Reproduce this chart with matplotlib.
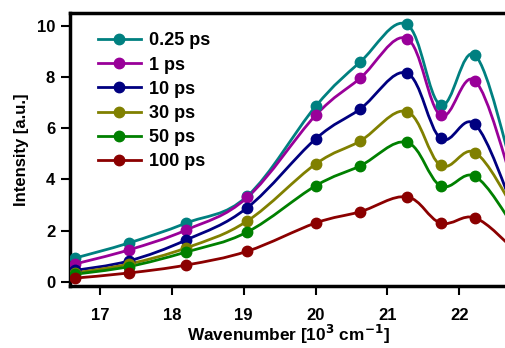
import numpy as np
import matplotlib
matplotlib.use("Agg")
import matplotlib.pyplot as plt
from matplotlib.path import Path
from matplotlib.patches import PathPatch
from matplotlib.lines import Line2D

plt.rcParams['font.family'] = ['Liberation Sans', 'DejaVu Sans']
plt.rcParams['font.weight'] = 'bold'

# wavenumber [10^3 cm^-1]
wn = [16.65, 17.40, 18.20, 19.05, 20.00, 20.62, 21.27, 21.74, 22.22, 22.75]

i_025 = [0.93, 1.52, 2.30, 3.35, 6.85, 8.58, 10.05, 6.90, 8.85, 4.3]
i_1 = [0.70, 1.25, 2.03, 3.30, 6.50, 7.95, 9.50, 6.50, 7.85, 3.8]
i_10 = [0.45, 0.82, 1.64, 2.90, 5.58, 6.75, 8.15, 5.60, 6.15, 2.9]
i_30 = [0.35, 0.70, 1.33, 2.38, 4.60, 5.50, 6.65, 4.55, 5.05, 2.9]
i_50 = [0.30, 0.60, 1.17, 1.95, 3.75, 4.53, 5.45, 3.75, 4.12, 2.2]
i_100 = [0.15, 0.35, 0.66, 1.20, 2.30, 2.74, 3.32, 2.30, 2.50, 1.3]

labels = ['0.25 ps', '1 ps', '10 ps', '30 ps', '50 ps', '100 ps']
series = [i_025, i_1, i_10, i_30, i_50, i_100]
colors = ['#008080', '#990099', '#000080', '#808000', '#008000', '#8b0000']


def smooth_path(x, y, t=0.18):
    # Catmull-Rom style bezier through the points (drawing only)
    x = np.asarray(x, float)
    y = np.asarray(y, float)
    verts = [(x[0], y[0])]
    codes = [Path.MOVETO]
    n = len(x)
    for i in range(n - 1):
        x0, y0 = (x[i - 1], y[i - 1]) if i > 0 else (x[i], y[i])
        x3, y3 = (x[i + 2], y[i + 2]) if i + 2 < n else (x[i + 1], y[i + 1])
        c1 = (x[i] + (x[i + 1] - x0) * t, y[i] + (y[i + 1] - y0) * t)
        c2 = (x[i + 1] - (x3 - x[i]) * t, y[i + 1] - (y3 - y[i]) * t)
        verts += [c1, c2, (x[i + 1], y[i + 1])]
        codes += [Path.CURVE4] * 3
    return Path(verts, codes)


fig = plt.figure(figsize=(5.06, 3.48), dpi=100)
ax = fig.add_axes([0.138, 0.178, 0.862, 0.785])

handles = []
for lab, ys, c in zip(labels, series, colors):
    ax.add_patch(PathPatch(smooth_path(wn, ys), fill=False, edgecolor=c, lw=2.0, zorder=2))
    ax.plot(wn, ys, 'o', color=c, ms=7.5, zorder=3)
    handles.append(Line2D([], [], color=c, lw=2.0, marker='o', ms=7.5))

ax.set_xlim(16.58, 22.65)
ax.set_ylim(-0.16, 10.5)
ax.set_xticks([17, 18, 19, 20, 21, 22])
ax.set_yticks([0, 2, 4, 6, 8, 10])
ax.tick_params(direction='out', width=1.5, length=6.5, labelsize=12)
ax.tick_params(axis='x', pad=9)
ax.tick_params(axis='y', pad=4)
for s in ['left', 'bottom', 'top']:
    ax.spines[s].set_linewidth(2.5)
ax.spines['right'].set_visible(False)

ax.set_xlabel('Wavenumber [10$^3$ cm$^{-1}$]', fontsize=12.4, fontweight='bold', labelpad=0)
ax.set_ylabel('Intensity [a.u.]', fontsize=12, fontweight='bold', labelpad=6)

ax.legend(handles, labels, loc='upper left', frameon=False,
          handlelength=2.4, handletextpad=0.45, labelspacing=0.4, borderaxespad=0.3,
          bbox_to_anchor=(0.035, 0.975), prop={'weight': 'bold', 'size': 13})

fig.savefig('out.png', dpi=100)
